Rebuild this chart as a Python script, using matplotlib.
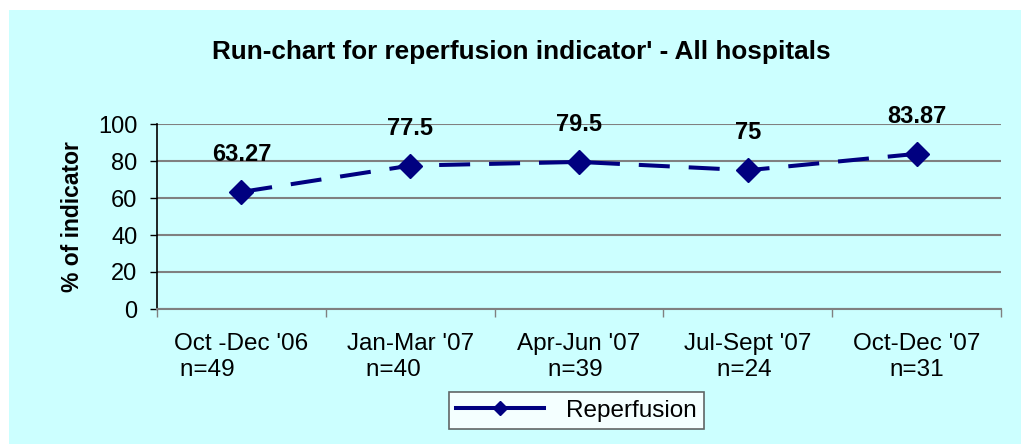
import matplotlib
matplotlib.use("Agg")
import matplotlib.pyplot as plt
from matplotlib.patches import Rectangle
from matplotlib.lines import Line2D

categories = ["Oct -Dec '06", "Jan-Mar '07", "Apr-Jun '07", "Jul-Sept '07", "Oct-Dec '07"]
counts = ["n=49", "n=40", "n=39", "n=24", "n=31"]
count_pad = [10, 5, 1, 1, 0]
values = [63.27, 77.5, 79.5, 75, 83.87]
value_labels = ["63.27", "77.5", "79.5", "75", "83.87"]
series_name = "Reperfusion"
title = "Run-chart for reperfusion indicator' - All hospitals"
ylabel = "% of indicator"
yticks = [0, 20, 40, 60, 80, 100]

plt.rcParams['font.family'] = ['Liberation Sans', 'DejaVu Sans']

W, H = 1021, 444
fig = plt.figure(figsize=(W / 100, H / 100), dpi=100)
fig.patch.set_facecolor("white")
bg = "#CCFFFF"
fig.add_artist(Rectangle((9 / W, 0), 1 - 9 / W, 1 - 10 / H, transform=fig.transFigure,
                         facecolor=bg, edgecolor="none", zorder=0))

ax = fig.add_axes([157 / W, 1 - 309 / H, (1001 - 157) / W, (309 - 124) / H])
ax.set_facecolor(bg)
ax.set_xlim(0, len(categories))
ax.set_ylim(0, 100)
ax.set_yticks(yticks)
ax.tick_params(axis="y", labelsize=17, length=5, width=1, color="black", pad=9)
ax.yaxis.grid(True, color="#808080", linewidth=1.5)
ax.set_axisbelow(True)

xs = [i + 0.5 for i in range(len(categories))]
ax.set_xticks(xs)
labels = [c + "\n" + n + " " * p for c, n, p in zip(categories, counts, count_pad)]
ax.set_xticklabels(labels, fontsize=17.5, linespacing=1.25)
ax.tick_params(axis="x", which="major", length=0, pad=17)
ax.set_xticks(range(len(categories) + 1), minor=True)
ax.tick_params(axis="x", which="minor", length=6, width=1, color="#808080", direction="out")

for s in ["top", "right"]:
    ax.spines[s].set_visible(False)
ax.spines["left"].set_color("black")
ax.spines["left"].set_linewidth(1.2)
ax.spines["bottom"].set_color("#808080")
ax.spines["bottom"].set_linewidth(1.5)

navy = "#000080"
ax.plot(xs, values, color=navy, linewidth=2.9, dashes=(7.7, 4.7),
        marker="D", markersize=12.5, markerfacecolor=navy, markeredgecolor=navy,
        clip_on=False, zorder=3)

for x, v, lab in zip(xs, values, value_labels):
    ax.annotate(lab, (x, v), xytext=(0, 27), textcoords="offset points",
                ha="center", va="center", fontsize=17, fontweight="bold")

ax.set_ylabel(ylabel, fontsize=16.5, fontweight="bold", labelpad=10)
fig.text(521 / W, 1 - 52 / H, title, ha="center", va="center", fontsize=18.8, fontweight="bold")

handle = Line2D([], [], color=navy, linewidth=2.9, linestyle="-", marker="D",
                markersize=7.5, markerfacecolor=navy, markeredgecolor=navy)
leg = fig.legend([handle], [series_name], loc="center",
                 bbox_to_anchor=((450 + 703) / 2 / W, 1 - (387 + 434) / 2 / H),
                 fontsize=17.5, frameon=True, fancybox=False, handlelength=3.6,
                 borderpad=0.3, handletextpad=0.9)
leg.get_frame().set_edgecolor("#404040")
leg.get_frame().set_linewidth(1.2)
leg.get_frame().set_facecolor("white")

fig.savefig("out.png", dpi=100, facecolor=fig.get_facecolor())
